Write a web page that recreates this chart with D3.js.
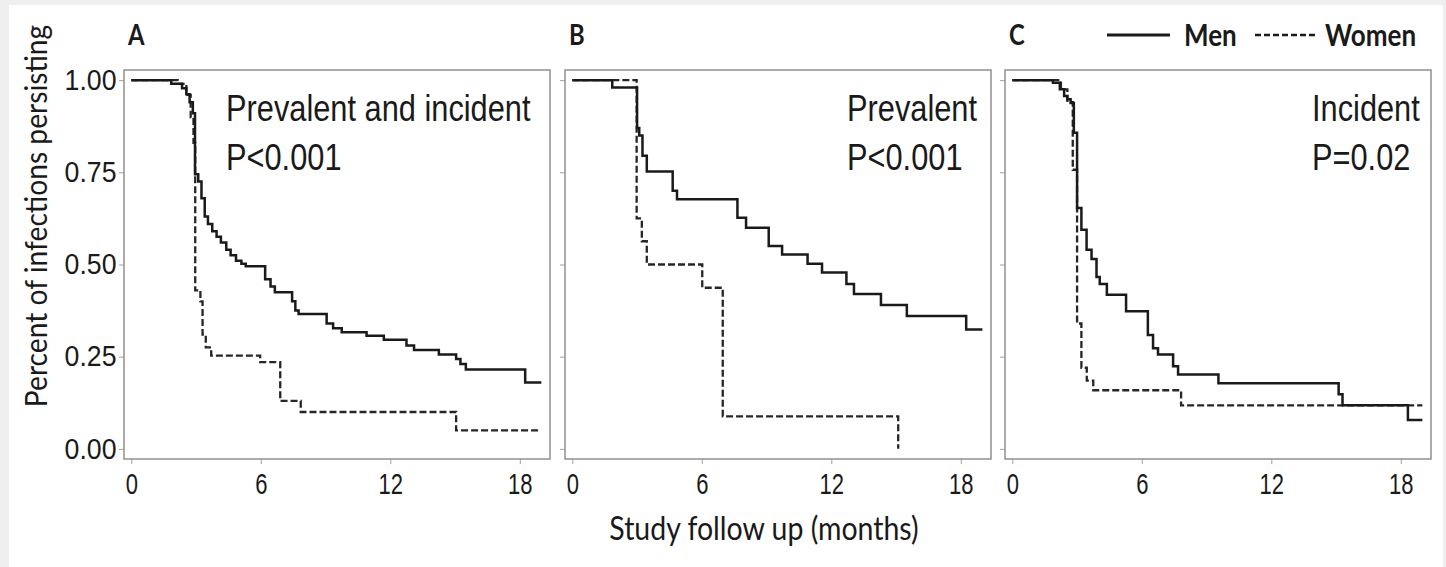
<!DOCTYPE html>
<html>
<head>
<meta charset="utf-8">
<script src="https://cdn.jsdelivr.net/npm/d3@7"></script>
<style>
  body { margin: 0; background: #efefef; }
  svg { display: block; }
</style>
</head>
<body>
<svg id="chart" width="1446" height="567"></svg>
<script>
// panels, notes and ticks
var panelNames = ["A", "B", "C"];
var panelNotes = [["Prevalent and incident", "P<0.001"], ["Prevalent", "P<0.001"], ["Incident", "P=0.02"]];
var seriesNames = ["Men", "Women"];
var xTickValues = [0, 6, 12, 18];
var yTickValues = [0, 0.25, 0.5, 0.75, 1];
var yTickLabels = ["0.00", "0.25", "0.50", "0.75", "1.00"];
var xTitle = "Study follow up (months)";
var yTitle = "Percent of infections persisting";

// Kaplan-Meier steps:
// time in months, fraction persisting from that time on, last follow-up time
var menA_time = [0, 1.85, 2.35, 2.55, 2.7, 2.85, 2.95, 3.1, 3.25, 3.4, 3.55, 3.75, 3.95, 4.15, 4.4, 4.6, 4.85, 5.1, 5.3, 6.2, 6.45, 6.65, 7.45, 7.6, 7.75, 9.05, 9.35, 9.75, 10.9, 11.7, 12.75, 13.1, 14.25, 15.05, 15.25, 15.5, 18.25];
var menA_surv = [1, 0.99, 0.978, 0.962, 0.94, 0.91, 0.745, 0.725, 0.68, 0.63, 0.61, 0.59, 0.575, 0.56, 0.54, 0.525, 0.51, 0.502, 0.495, 0.46, 0.44, 0.425, 0.40, 0.375, 0.366, 0.34, 0.327, 0.316, 0.307, 0.296, 0.28, 0.268, 0.256, 0.244, 0.23, 0.215, 0.18];
var menA_end = 19.0;
var womenA_time = [0, 2.15, 2.55, 2.75, 2.88, 2.96, 3.2, 3.3, 3.45, 3.7, 5.97, 6.9, 7.85, 15.05];
var womenA_surv = [1, 0.99, 0.96, 0.90, 0.83, 0.43, 0.40, 0.31, 0.275, 0.253, 0.235, 0.13, 0.10, 0.05];
var womenA_end = 18.9;

var menB_time = [0, 1.85, 3.0, 3.1, 3.25, 3.45, 4.65, 4.85, 7.65, 8.05, 9.1, 9.72, 10.9, 11.57, 12.7, 13.05, 14.3, 15.5, 18.25];
var menB_surv = [1, 0.98, 0.87, 0.85, 0.795, 0.752, 0.70, 0.677, 0.627, 0.60, 0.55, 0.527, 0.502, 0.478, 0.447, 0.42, 0.39, 0.36, 0.324];
var menB_end = 19.0;
var womenB_time = [0, 2.98, 3.22, 3.45, 6.02, 6.97, 15.1];
var womenB_surv = [1, 0.625, 0.563, 0.50, 0.437, 0.088, 0];
var womenB_end = 15.1;

var menC_time = [0, 1.88, 2.2, 2.4, 2.55, 2.7, 2.85, 3.0, 3.2, 3.44, 3.67, 3.9, 4.05, 4.38, 5.27, 6.28, 6.52, 6.75, 7.45, 7.68, 9.55, 15.12, 15.3, 18.33];
var menC_surv = [1, 0.993, 0.975, 0.957, 0.948, 0.938, 0.857, 0.653, 0.594, 0.54, 0.515, 0.466, 0.447, 0.418, 0.373, 0.309, 0.273, 0.256, 0.224, 0.202, 0.178, 0.148, 0.118, 0.078];
var menC_end = 19.0;
var womenC_time = [0, 2.25, 2.55, 2.8, 3.0, 3.2, 3.45, 3.75, 7.82];
var womenC_surv = [1, 0.975, 0.94, 0.757, 0.34, 0.22, 0.185, 0.159, 0.118];
var womenC_end = 19.0;

// layout
var boxTop = 70, boxW = 426, boxH = 389;
var boxLeft = [124, 565, 1005];
var noteX = [102, 282, 307];
var numFont = "'Liberation Sans', Arial, sans-serif";
var labFont = "Lato, 'Open Sans', sans-serif";
var ink = "#1a1a1a";

var svg = d3.select("#chart");

// white sheet on the grey page
svg.append("rect")
    .attr("x", 9).attr("y", 5)
    .attr("width", 1434).attr("height", 562)
    .attr("fill", "#fff");

var x = d3.scaleLinear().domain([-0.34, 19.4]).range([0, boxW]);
var y = d3.scaleLinear().domain([-0.0275, 1.0275]).range([boxH, 0]);

var stepLine = d3.line()
    .curve(d3.curveStepAfter)
    .x(function(d) { return x(d[0]); })
    .y(function(d) { return y(d[1]); });

function steps(time, surv, end) {
  var pts = time.map(function(t, i) { return [t, surv[i]]; });
  if (end > time[time.length - 1]) pts.push([end, surv[surv.length - 1]]);
  return pts;
}

var panelSeries = [
  [steps(menA_time, menA_surv, menA_end), steps(womenA_time, womenA_surv, womenA_end)],
  [steps(menB_time, menB_surv, menB_end), steps(womenB_time, womenB_surv, womenB_end)],
  [steps(menC_time, menC_surv, menC_end), steps(womenC_time, womenC_surv, womenC_end)]
];

// squeezed text, the picture is narrower than the fonts
function squeezeText(parent, str, px, py, k, font, size, weight, anchor) {
  return parent.append("text")
      .attr("transform", "translate(" + px + "," + py + ") scale(" + k + ",1)")
      .attr("font-family", font)
      .attr("font-size", size)
      .attr("font-weight", weight || "normal")
      .attr("text-anchor", anchor || "start")
      .attr("fill", ink)
      .text(str);
}

panelNames.forEach(function(name, i) {
  var g = svg.append("g")
      .attr("transform", "translate(" + boxLeft[i] + "," + boxTop + ")");

  // x axis
  var xa = g.append("g")
      .attr("transform", "translate(0," + boxH + ")")
      .call(d3.axisBottom(x).tickValues(xTickValues).tickSize(5).tickPadding(9));
  xa.select(".domain").remove();
  xa.selectAll("line").attr("stroke", "#a0a0a0");
  xa.selectAll("text")
      .attr("font-family", numFont)
      .attr("font-size", 29)
      .attr("fill", ink)
      .attr("transform", "scale(0.76,1)");

  // y axis, labels only on the first panel
  var ya = g.append("g")
      .call(d3.axisLeft(y).tickValues(yTickValues).tickSize(5).tickPadding(2.5)
        .tickFormat(function(d, j) { return i === 0 ? yTickLabels[j] : ""; }));
  ya.select(".domain").remove();
  ya.selectAll("line").attr("stroke", "#a0a0a0");
  ya.selectAll("text")
      .attr("font-family", numFont)
      .attr("font-size", 29)
      .attr("fill", ink)
      .attr("x", -7.5 / 0.92)
      .attr("transform", "scale(0.92,1)");

  // curves, women first so men sit on top
  g.append("path")
      .datum(panelSeries[i][1])
      .attr("d", stepLine)
      .attr("fill", "none")
      .attr("stroke", "#262626")
      .attr("stroke-width", 2.3)
      .attr("stroke-dasharray", "7,3");

  g.append("path")
      .datum(panelSeries[i][0])
      .attr("d", stepLine)
      .attr("fill", "none")
      .attr("stroke", ink)
      .attr("stroke-width", 2.5);

  // panel frame
  g.append("rect")
      .attr("width", boxW)
      .attr("height", boxH)
      .attr("fill", "none")
      .attr("stroke", "#909090")
      .attr("stroke-width", 1.5);

  // notes
  panelNotes[i].forEach(function(str, j) {
    squeezeText(g, str, noteX[i], 51 + j * 49, 0.855, numFont, 36);
  });

  // panel letter
  squeezeText(svg, name, boxLeft[i] + 4, 45, 0.85, labFont, 28, "bold");
});

// legend
svg.append("line")
    .attr("x1", 1107).attr("x2", 1170).attr("y1", 35).attr("y2", 35)
    .attr("stroke", ink).attr("stroke-width", 2.8);
squeezeText(svg, seriesNames[0], 1184, 46, 0.84, labFont, 31, "bold");
svg.append("line")
    .attr("x1", 1255).attr("x2", 1317).attr("y1", 35).attr("y2", 35)
    .attr("stroke", ink).attr("stroke-width", 2.6)
    .attr("stroke-dasharray", "6,3");
squeezeText(svg, seriesNames[1], 1325, 46, 0.84, labFont, 31, "bold");

// axis titles
squeezeText(svg, xTitle, 764, 540, 0.89, labFont, 32, "normal", "middle");
svg.append("text")
    .attr("transform", "translate(47,216) rotate(-90) scale(0.91,1)")
    .attr("font-family", labFont)
    .attr("font-size", 31)
    .attr("text-anchor", "middle")
    .attr("fill", ink)
    .text(yTitle);
</script>
</body>
</html>
